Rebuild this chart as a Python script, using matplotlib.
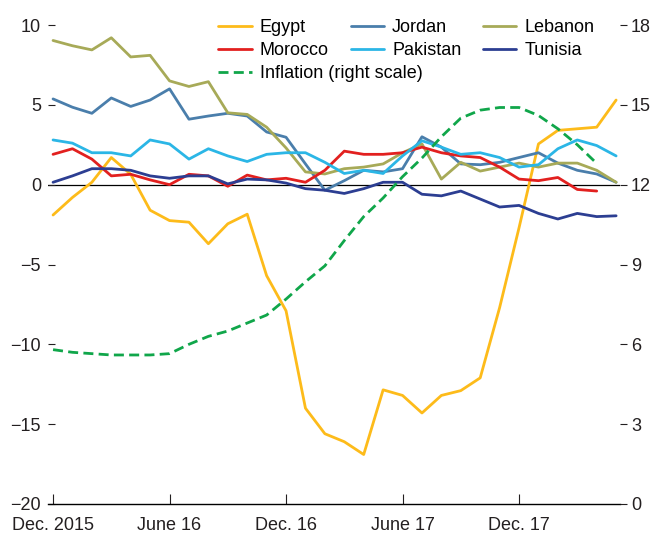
import matplotlib.pyplot as plt
import numpy as np

plt.rcParams['font.family'] = ['Liberation Sans Narrow', 'Liberation Sans', 'DejaVu Sans']
plt.rcParams['font.size'] = 13

# months since Dec. 2015
months = np.arange(30)
tick_pos = [0, 6, 12, 18, 24]
tick_labels = ['Dec. 2015', 'June 16', 'Dec. 16', 'June 17', 'Dec. 17']

egypt = [-1.9, -0.8, 0.15, 1.7, 0.65, -1.6, -2.25, -2.35, -3.7, -2.45, -1.85, -5.7,
         -7.9, -14.0, -15.6, -16.1, -16.9, -12.85, -13.2, -14.3, -13.2, -12.9, -12.1, -7.7,
         -2.7, 2.55, 3.4, 3.5, 3.6, 5.3]
jordan = [5.37, 4.85, 4.47, 5.43, 4.9, 5.3, 6.0, 4.1, 4.3, 4.47, 4.3, 3.3,
          2.97, 1.3, -0.35, 0.25, 0.9, 0.8, 1.0, 3.0, 2.35, 1.3, 1.25, 1.4,
          1.7, 2.0, 1.35, 0.9, 0.67, 0.15]
lebanon = [9.03, 8.7, 8.44, 9.2, 8.0, 8.1, 6.5, 6.15, 6.45, 4.5, 4.4, 3.6,
           2.3, 0.8, 0.67, 1.0, 1.1, 1.3, 2.0, 2.55, 0.35, 1.4, 0.85, 1.1,
           1.35, 1.1, 1.35, 1.35, 0.9, 0.15]
morocco = [1.9, 2.25, 1.6, 0.55, 0.65, 0.3, 0.0, 0.65, 0.55, -0.1, 0.6, 0.3,
           0.4, 0.15, 0.9, 2.1, 1.9, 1.9, 2.0, 2.35, 2.0, 1.8, 1.7, 1.1,
           0.35, 0.25, 0.45, -0.3, -0.4]
pakistan = [2.8, 2.6, 2.0, 2.0, 1.8, 2.8, 2.55, 1.6, 2.25, 1.8, 1.45, 1.9,
            2.0, 2.0, 1.4, 0.7, 0.9, 0.7, 1.8, 2.75, 2.35, 1.9, 2.0, 1.7,
            1.1, 1.25, 2.25, 2.8, 2.45, 1.8]
tunisia = [0.15, 0.55, 1.0, 1.0, 0.9, 0.55, 0.4, 0.55, 0.55, 0.05, 0.35, 0.3,
           0.1, -0.25, -0.35, -0.55, -0.25, 0.15, 0.15, -0.6, -0.7, -0.4, -0.9, -1.4,
           -1.3, -1.8, -2.15, -1.8, -2.0, -1.95]
inflation = [5.8, 5.7, 5.65, 5.6, 5.6, 5.6, 5.65, 6.0, 6.3, 6.5, 6.8, 7.1,
             7.7, 8.35, 8.95, 9.9, 10.8, 11.5, 12.3, 13.0, 13.8, 14.5, 14.8, 14.9,
             14.9, 14.6, 14.1, 13.5, 12.8]

c_egypt = '#FDBB1A'
c_jordan = '#4A7EAB'
c_lebanon = '#A7AA58'
c_morocco = '#E2201F'
c_pakistan = '#2BB6E6'
c_tunisia = '#2C3E92'
c_infl = '#10A64A'

fig = plt.figure(figsize=(6.53, 5.37), dpi=100)
ax = fig.add_axes([48/653, 33/537, (620-48)/653, (504-25)/537])
ax2 = ax.twinx()

lw = 2.0
kw = dict(lw=lw, solid_joinstyle='round', solid_capstyle='round')
ax.axhline(0, color='black', lw=0.9, zorder=1)
h_egypt, = ax.plot(months[:len(egypt)], egypt, color=c_egypt, label='Egypt', **kw)
h_jordan, = ax.plot(months[:len(jordan)], jordan, color=c_jordan, label='Jordan', **kw)
h_lebanon, = ax.plot(months[:len(lebanon)], lebanon, color=c_lebanon, label='Lebanon', **kw)
h_morocco, = ax.plot(months[:len(morocco)], morocco, color=c_morocco, label='Morocco', **kw)
h_pakistan, = ax.plot(months[:len(pakistan)], pakistan, color=c_pakistan, label='Pakistan', **kw)
h_tunisia, = ax.plot(months[:len(tunisia)], tunisia, color=c_tunisia, label='Tunisia', **kw)
h_infl, = ax2.plot(months[:len(inflation)], inflation, color=c_infl, lw=lw,
                   dashes=(3.6, 1.9), label='Inflation (right scale)')

ax.set_xlim(-0.26, 29.2)
ax.set_ylim(-20, 10)
ax.set_yticks([-20, -15, -10, -5, 0, 5, 10])
ax.set_yticklabels(['\u221220', '\u221215', '\u221210', '\u22125', '0', '5', '10'])
ax2.set_ylim(0, 18)
ax2.set_yticks([0, 3, 6, 9, 12, 15, 18])

ax.set_xticks(tick_pos)
ax.set_xticklabels(tick_labels)

for a in (ax, ax2):
    for s in ('top', 'left', 'right'):
        a.spines[s].set_visible(False)
    a.spines['bottom'].set_linewidth(1.0)
ax2.spines['bottom'].set_visible(False)

ax.tick_params(axis='y', direction='in', length=5, width=0.8, pad=5, colors='#231F20')
ax.tick_params(axis='x', direction='in', length=7, width=0.8, pad=9, colors='#231F20')
ax2.tick_params(axis='y', direction='out', length=5, width=0.8, pad=3, colors='#231F20')

leg1 = ax2.legend(handles=[h_egypt, h_morocco, h_jordan, h_pakistan, h_lebanon, h_tunisia],
                  ncol=3, loc='upper left', bbox_to_anchor=(0.298, 1.012), frameon=False,
                  handlelength=1.85, handletextpad=0.45, columnspacing=1.2,
                  labelspacing=0.33, borderpad=0, borderaxespad=0)
ax2.add_artist(leg1)
ax2.legend(handles=[h_infl], loc='upper left', bbox_to_anchor=(0.298, 0.916),
           frameon=False, handlelength=1.85, handletextpad=0.45,
           borderpad=0, borderaxespad=0)

fig.savefig('out.png', dpi=100)
